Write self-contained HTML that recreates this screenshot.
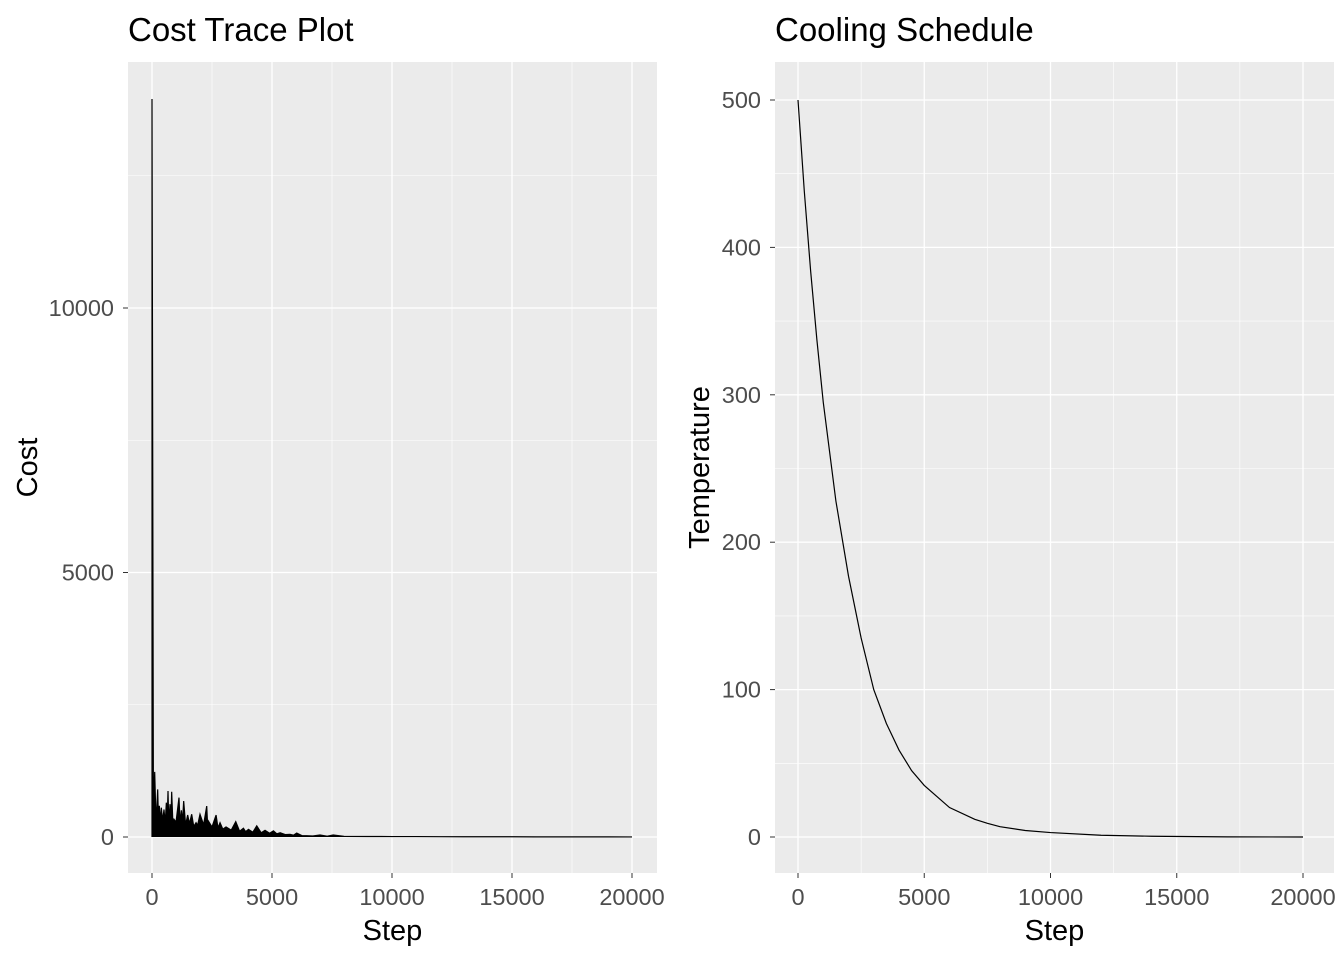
<!DOCTYPE html>
<html><head><meta charset="utf-8"><style>
body{margin:0;background:#fff;font-family:"Liberation Sans",Arial,sans-serif}
svg text{font-family:"Liberation Sans",Arial,sans-serif}
</style></head><body>
<svg id="c" width="1344" height="960" xmlns="http://www.w3.org/2000/svg"></svg>
<script>
// ---- Cost trace data ----
const costSteps = [0,0,60,112,170,237,270,306,350,389,440,500,550,598,630,667,700,750,790,820,870,917,1000,1125,1170,1223,1270,1320,1400,1487,1560,1653,1740,1835,1900,2000,2150,2280,2320,2350,2500,2670,2750,2835,2950,3085,3300,3490,3650,3810,3900,4020,4200,4365,4550,4710,4900,5060,5200,5340,5550,5750,5900,6030,6250,6450,6700,7000,7300,7550,8000,9000,10000,11000,12000,13000,14000,15000,16000,17000,18000,19000,20000];
const costVals  = [0,13950,300,1230,250,900,300,590,280,555,300,520,260,650,280,870,250,620,300,855,260,335,280,745,250,505,280,680,230,415,250,430,200,270,220,430,230,585,200,300,190,415,170,270,150,190,130,290,110,165,100,145,90,210,80,125,70,115,60,80,45,50,35,75,25,25,20,38,15,38,12,10,8,8,6,5,5,5,3,3,2,2,1];
const costXTicks = [0,5000,10000,15000,20000];
const costYTicks = [0,5000,10000];
// ---- Cooling schedule data ----
const tempSteps = [0,250,500,750,1000,1500,2000,2500,3000,3500,4000,4500,5000,6000,7000,7500,8000,9000,10000,12000,14000,17000,20000];
const tempVals  = [500,438,384,337,295,228,177,135,100,77,59,45,35,20,12,9.3,7,4.4,3.0,1.2,0.5,0.1,0];
const tempXTicks = [0,5000,10000,15000,20000];
const tempYTicks = [0,100,200,300,400,500];

const svg = document.getElementById('c');
const NS = 'http://www.w3.org/2000/svg';
function mk(tag, attrs, parent){const e=document.createElementNS(NS,tag);for(const k in attrs)e.setAttribute(k,attrs[k]);(parent||svg).appendChild(e);return e;}

function panel(o){
  const g = mk('g',{});
  
  
  const bg = mk('rect',{x:o.x0,y:o.y0,width:o.x1-o.x0,height:o.y1-o.y0,fill:'#ebebeb'},g);
  
  
  const sx = v => o.px0 + (v - o.xmin)/(o.xmax-o.xmin)*(o.px1-o.px0);
  const sy = v => o.py0 - (v - o.ymin)/(o.ymax-o.ymin)*(o.py0-o.py1);
  o.xMinor.forEach(v=>{const l=mk('line',{x1:sx(v),x2:sx(v),y1:o.y0,y2:o.y1,stroke:'#fff','stroke-width':0.6},g);
    });
  o.yMinor.forEach(v=>{const l=mk('line',{x1:o.x0,x2:o.x1,y1:sy(v),y2:sy(v),stroke:'#fff','stroke-width':0.6},g);
    });
  o.xTicks.forEach(v=>{
    const l=mk('line',{x1:sx(v),x2:sx(v),y1:o.y0,y2:o.y1,stroke:'#fff','stroke-width':1.3},g);
    
    mk('line',{x1:sx(v),x2:sx(v),y1:o.y1,y2:o.y1+5,stroke:'#333','stroke-width':1},g);
    const t=mk('text',{x:sx(v),y:o.y1+32,'text-anchor':'middle','font-size':23.5,fill:'#4d4d4d'},g);t.textContent=v;
    
  });
  o.yTicks.forEach(v=>{
    const l=mk('line',{x1:o.x0,x2:o.x1,y1:sy(v),y2:sy(v),stroke:'#fff','stroke-width':1.3},g);
    
    mk('line',{x1:o.x0-5,x2:o.x0,y1:sy(v),y2:sy(v),stroke:'#333','stroke-width':1},g);
    const t=mk('text',{x:o.x0-14,y:sy(v)+8,'text-anchor':'end','font-size':23.5,fill:'#4d4d4d'},g);t.textContent=v;
    
  });
  let d='';
  o.xs.forEach((v,i)=>{d+=(i?'L':'M')+sx(v).toFixed(2)+' '+sy(o.ys[i]).toFixed(2);});
  if(o.fill){
    const a=mk('path',{d:d+'L'+sx(o.xs[o.xs.length-1])+' '+sy(0)+'L'+sx(o.xs[0])+' '+sy(0)+'Z',fill:'#000',stroke:'none'},g);
    
  }
  const p=mk('path',{d:d,fill:'none',stroke:'#000','stroke-width':1.2},g);
  
  
  const ti=mk('text',{x:o.x0,y:41,'font-size':33,fill:'#000'},g);ti.textContent=o.title;
  
  const xt=mk('text',{x:(o.x0+o.x1)/2,y:940,'text-anchor':'middle','font-size':29,fill:'#000'},g);xt.textContent='Step';
  
  const yt=mk('text',{x:0,y:0,'text-anchor':'middle','font-size':29,fill:'#000',transform:`translate(${o.ytX},${(o.y0+o.y1)/2}) rotate(-90)`},g);yt.textContent=o.ytitle;
  
}

panel({name:'cost-trace-panel',title:'Cost Trace Plot',ytitle:'Cost',ytX:37,seriesName:'cost-line',fill:true,
  x0:128,x1:657,y0:62,y1:873,xmin:0,xmax:20000,px0:152,px1:632,ymin:0,ymax:10000,py0:837,py1:308,
  xTicks:costXTicks,yTicks:costYTicks,xMinor:[2500,7500,12500,17500],yMinor:[2500,7500,12500],
  xs:costSteps,ys:costVals});
panel({name:'cooling-schedule-panel',title:'Cooling Schedule',ytitle:'Temperature',ytX:709,seriesName:'temperature-line',
  x0:775,x1:1334,y0:62,y1:873,xmin:0,xmax:20000,px0:798,px1:1303,ymin:0,ymax:500,py0:837,py1:100,
  xTicks:tempXTicks,yTicks:tempYTicks,xMinor:[2500,7500,12500,17500],yMinor:[50,150,250,350,450],
  xs:tempSteps,ys:tempVals});
</script>
</body></html>
